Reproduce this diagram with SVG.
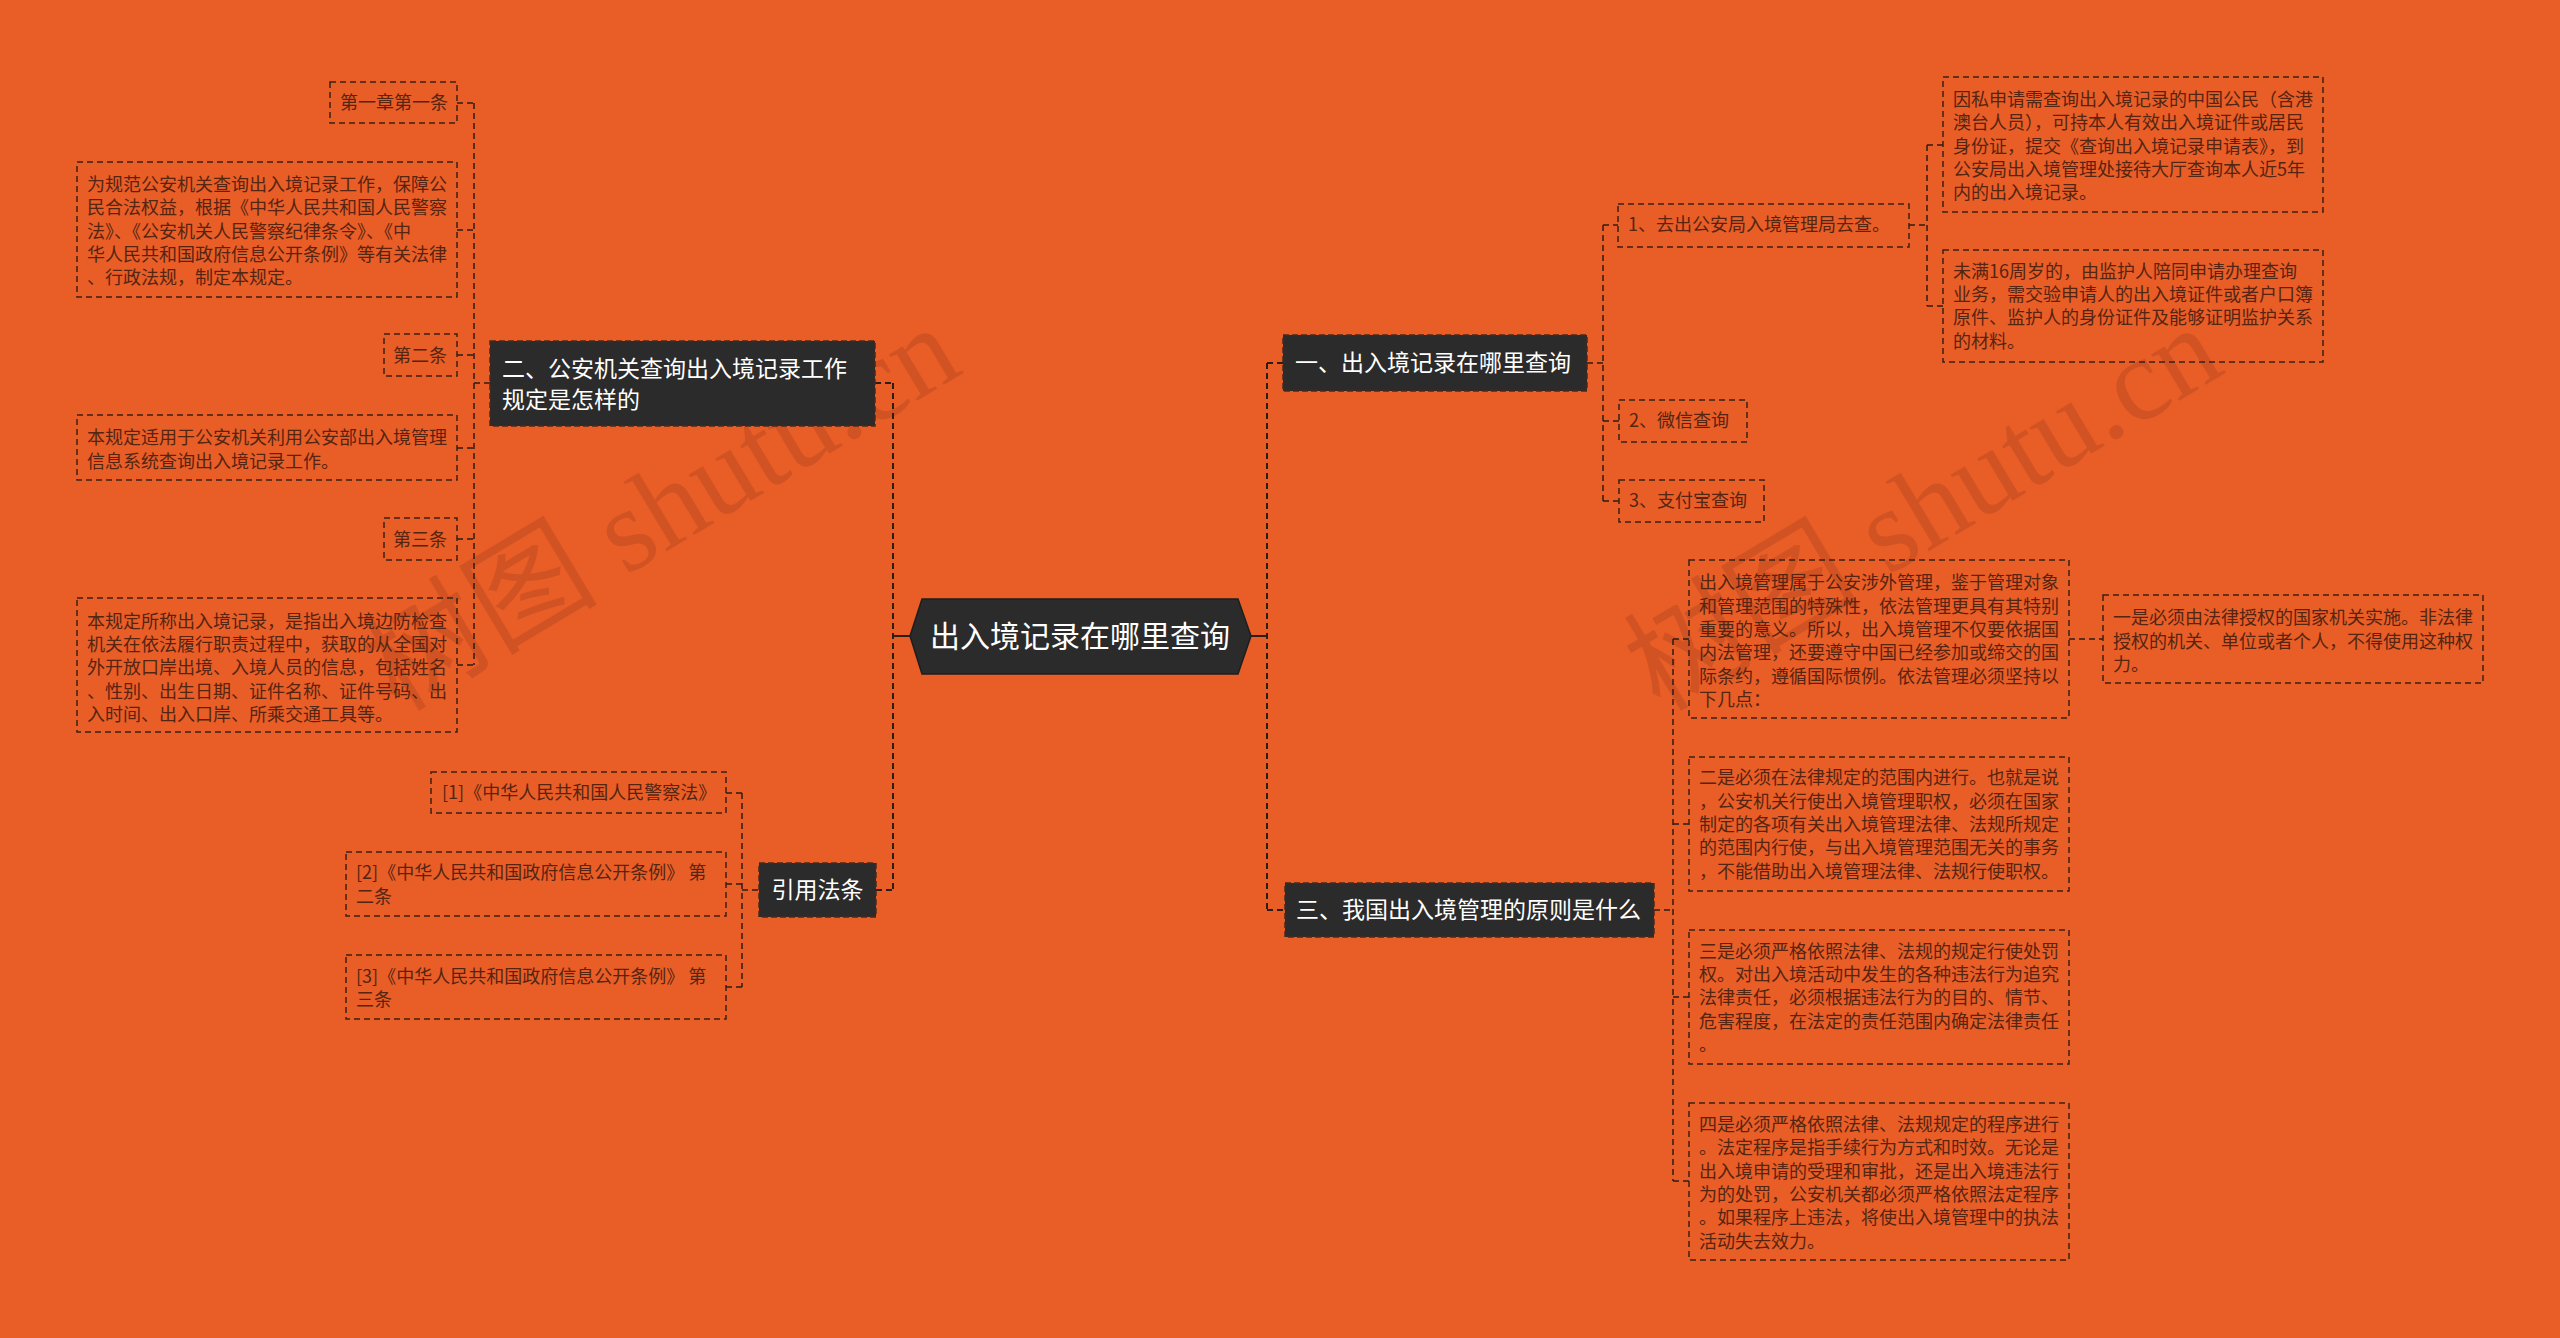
<svg xmlns="http://www.w3.org/2000/svg" width="2560" height="1338" viewBox="0 0 2560 1338">
<style>
.bg{fill:#E95D27}
.leaf{fill:none;stroke:#3a2014;stroke-width:1.5;stroke-dasharray:6 4}
.lt{font-family:"Noto Sans CJK SC","Noto Sans",sans-serif;font-size:18px;fill:#552511}
.dark{fill:#2b2b2b;stroke:#4a2a1c;stroke-width:1.5;stroke-dasharray:6 3}
.dt{font-family:"Noto Sans CJK SC","Noto Sans",sans-serif;font-size:23px;fill:#ffffff}
.ct{font-family:"Noto Sans CJK SC","Noto Sans",sans-serif;font-size:30px;fill:#ffffff}
.c1{fill:none;stroke:#2e1d15;stroke-width:2;stroke-dasharray:6 4}
.c2{fill:none;stroke:#2e1d15;stroke-width:1.5;stroke-dasharray:6 4}
.wm{font-family:"Liberation Serif","Noto Sans CJK SC",serif;font-size:118px;fill:#9a3c1a;fill-opacity:0.3}
</style>
<rect class="bg" x="0" y="0" width="2560" height="1338"/>

<g id="watermarks">
<text class="wm" x="661" y="548" text-anchor="middle" transform="rotate(-31 661 508)">树图 shutu.cn</text>
<text class="wm" x="1923" y="548" text-anchor="middle" transform="rotate(-31 1923 508)">树图 shutu.cn</text>
</g>

<g id="connectors">
<path class="c1" d="M893,383 V890 M875,383 H893 M876,890 H893"/>
<path d="M893,636 H910" stroke="#2e1d15" stroke-width="2"/>
<path class="c1" d="M1267,363 V910 M1267,363 H1283 M1267,910 H1285"/>
<path d="M1251,636 H1267" stroke="#2e1d15" stroke-width="2"/>
<path class="c2" d="M474,103 V665 M457,103 H474 M457,230 H474 M457,355 H474 M457,448 H474 M457,539 H474 M457,665 H474 M474,383 H490"/>
<path class="c2" d="M742,793 V987 M726,793 H742 M726,884 H742 M726,987 H742 M742,890 H759"/>
<path class="c2" d="M1603,225 V501 M1587,363 H1603 M1603,225 H1618 M1603,421 H1619 M1603,501 H1619"/>
<path class="c2" d="M1927,145 V306 M1909,225 H1927 M1927,145 H1943 M1927,306 H1943"/>
<path class="c2" d="M1673,639 V1181 M1654,910 H1673 M1673,639 H1689 M1673,824 H1689 M1673,997 H1689 M1673,1181 H1689"/>
<path class="c2" d="M2069,639 H2103"/>
</g>

<g id="center">
<polygon points="910,636 922,599 1238,599 1251,636 1238,674 922,674" fill="#2b2b2b" stroke="#1e1e1e" stroke-width="1.5"/>
<text class="ct" x="1080" y="647" text-anchor="middle">出入境记录在哪里查询</text>
</g>

<g id="node-er">
<rect class="dark" x="490" y="341" width="385" height="85"/>
<text class="dt" x="502" y="377">二、公安机关查询出入境记录工作</text>
<text class="dt" x="502" y="408">规定是怎样的</text>
</g>

<g id="node-yinyong">
<rect class="dark" x="759" y="863" width="117" height="54"/>
<text class="dt" x="817.5" y="898" text-anchor="middle">引用法条</text>
</g>

<g id="node-yi">
<rect class="dark" x="1283" y="335" width="304" height="56"/>
<text class="dt" x="1295" y="371">一、出入境记录在哪里查询</text>
</g>

<g id="node-san">
<rect class="dark" x="1285" y="883" width="369" height="54"/>
<text class="dt" x="1296" y="918">三、我国出入境管理的原则是什么</text>
</g>

<g id="leaf-l1">
<rect class="leaf" x="330" y="82" width="127" height="41"/>
<text class="lt" x="340" y="109">第一章第一条</text>
</g>
<g id="leaf-l2">
<rect class="leaf" x="77" y="162" width="380" height="135"/>
<text class="lt"><tspan x="87" y="191">为规范公安机关查询出入境记录工作，保障公</tspan><tspan x="87" y="214">民合法权益，根据《中华人民共和国人民警察</tspan><tspan x="87" y="238">法》、《公安机关人民警察纪律条令》、《中</tspan><tspan x="87" y="261">华人民共和国政府信息公开条例》等有关法律</tspan><tspan x="87" y="284">、行政法规，制定本规定。</tspan></text>
</g>
<g id="leaf-l3">
<rect class="leaf" x="384" y="334" width="73" height="42"/>
<text class="lt" x="393" y="362">第二条</text>
</g>
<g id="leaf-l4">
<rect class="leaf" x="77" y="415" width="380" height="65"/>
<text class="lt"><tspan x="87" y="444">本规定适用于公安机关利用公安部出入境管理</tspan><tspan x="87" y="468">信息系统查询出入境记录工作。</tspan></text>
</g>
<g id="leaf-l5">
<rect class="leaf" x="384" y="518" width="73" height="42"/>
<text class="lt" x="393" y="546">第三条</text>
</g>
<g id="leaf-l6">
<rect class="leaf" x="77" y="598" width="380" height="134"/>
<text class="lt"><tspan x="87" y="628">本规定所称出入境记录，是指出入境边防检查</tspan><tspan x="87" y="651">机关在依法履行职责过程中，获取的从全国对</tspan><tspan x="87" y="674">外开放口岸出境、入境人员的信息，包括姓名</tspan><tspan x="87" y="698">、性别、出生日期、证件名称、证件号码、出</tspan><tspan x="87" y="721">入时间、出入口岸、所乘交通工具等。</tspan></text>
</g>

<g id="ref-1">
<rect class="leaf" x="431" y="772" width="295" height="41"/>
<text class="lt" x="442" y="799">[1]《中华人民共和国人民警察法》</text>
</g>
<g id="ref-2">
<rect class="leaf" x="346" y="852" width="380" height="64"/>
<text class="lt"><tspan x="356" y="879">[2]《中华人民共和国政府信息公开条例》 第</tspan><tspan x="356" y="903">二条</tspan></text>
</g>
<g id="ref-3">
<rect class="leaf" x="346" y="955" width="380" height="64"/>
<text class="lt"><tspan x="356" y="983">[3]《中华人民共和国政府信息公开条例》 第</tspan><tspan x="356" y="1006">三条</tspan></text>
</g>

<g id="leaf-r1">
<rect class="leaf" x="1618" y="204" width="291" height="43"/>
<text class="lt" x="1628" y="231">1、去出公安局入境管理局去查。</text>
</g>
<g id="leaf-r1a">
<rect class="leaf" x="1943" y="77" width="380" height="135"/>
<text class="lt"><tspan x="1953" y="106">因私申请需查询出入境记录的中国公民（含港</tspan><tspan x="1953" y="129">澳台人员），可持本人有效出入境证件或居民</tspan><tspan x="1953" y="153">身份证，提交《查询出入境记录申请表》，到</tspan><tspan x="1953" y="176">公安局出入境管理处接待大厅查询本人近5年</tspan><tspan x="1953" y="199">内的出入境记录。</tspan></text>
</g>
<g id="leaf-r1b">
<rect class="leaf" x="1943" y="250" width="380" height="112"/>
<text class="lt"><tspan x="1953" y="278">未满16周岁的，由监护人陪同申请办理查询</tspan><tspan x="1953" y="301">业务，需交验申请人的出入境证件或者户口簿</tspan><tspan x="1953" y="324">原件、监护人的身份证件及能够证明监护关系</tspan><tspan x="1953" y="348">的材料。</tspan></text>
</g>
<g id="leaf-r2">
<rect class="leaf" x="1619" y="400" width="128" height="42"/>
<text class="lt" x="1629" y="427">2、微信查询</text>
</g>
<g id="leaf-r3">
<rect class="leaf" x="1619" y="480" width="145" height="42"/>
<text class="lt" x="1629" y="507">3、支付宝查询</text>
</g>

<g id="leaf-p0">
<rect class="leaf" x="1689" y="560" width="380" height="158"/>
<text class="lt"><tspan x="1699" y="589">出入境管理属于公安涉外管理，鉴于管理对象</tspan><tspan x="1699" y="613">和管理范围的特殊性，依法管理更具有其特别</tspan><tspan x="1699" y="636">重要的意义。所以，出入境管理不仅要依据国</tspan><tspan x="1699" y="659">内法管理，还要遵守中国已经参加或缔交的国</tspan><tspan x="1699" y="683">际条约，遵循国际惯例。依法管理必须坚持以</tspan><tspan x="1699" y="706">下几点：</tspan></text>
</g>
<g id="leaf-p1">
<rect class="leaf" x="2103" y="595" width="380" height="88"/>
<text class="lt"><tspan x="2113" y="624">一是必须由法律授权的国家机关实施。非法律</tspan><tspan x="2113" y="648">授权的机关、单位或者个人，不得使用这种权</tspan><tspan x="2113" y="671">力。</tspan></text>
</g>
<g id="leaf-p2">
<rect class="leaf" x="1689" y="757" width="380" height="134"/>
<text class="lt"><tspan x="1699" y="784">二是必须在法律规定的范围内进行。也就是说</tspan><tspan x="1699" y="808">，公安机关行使出入境管理职权，必须在国家</tspan><tspan x="1699" y="831">制定的各项有关出入境管理法律、法规所规定</tspan><tspan x="1699" y="854">的范围内行使，与出入境管理范围无关的事务</tspan><tspan x="1699" y="878">，不能借助出入境管理法律、法规行使职权。</tspan></text>
</g>
<g id="leaf-p3">
<rect class="leaf" x="1689" y="930" width="380" height="134"/>
<text class="lt"><tspan x="1699" y="958">三是必须严格依照法律、法规的规定行使处罚</tspan><tspan x="1699" y="981">权。对出入境活动中发生的各种违法行为追究</tspan><tspan x="1699" y="1004">法律责任，必须根据违法行为的目的、情节、</tspan><tspan x="1699" y="1028">危害程度，在法定的责任范围内确定法律责任</tspan><tspan x="1699" y="1051">。</tspan></text>
</g>
<g id="leaf-p4">
<rect class="leaf" x="1689" y="1103" width="380" height="157"/>
<text class="lt"><tspan x="1699" y="1131">四是必须严格依照法律、法规规定的程序进行</tspan><tspan x="1699" y="1154">。法定程序是指手续行为方式和时效。无论是</tspan><tspan x="1699" y="1178">出入境申请的受理和审批，还是出入境违法行</tspan><tspan x="1699" y="1201">为的处罚，公安机关都必须严格依照法定程序</tspan><tspan x="1699" y="1224">。如果程序上违法，将使出入境管理中的执法</tspan><tspan x="1699" y="1248">活动失去效力。</tspan></text>
</g>
</svg>
